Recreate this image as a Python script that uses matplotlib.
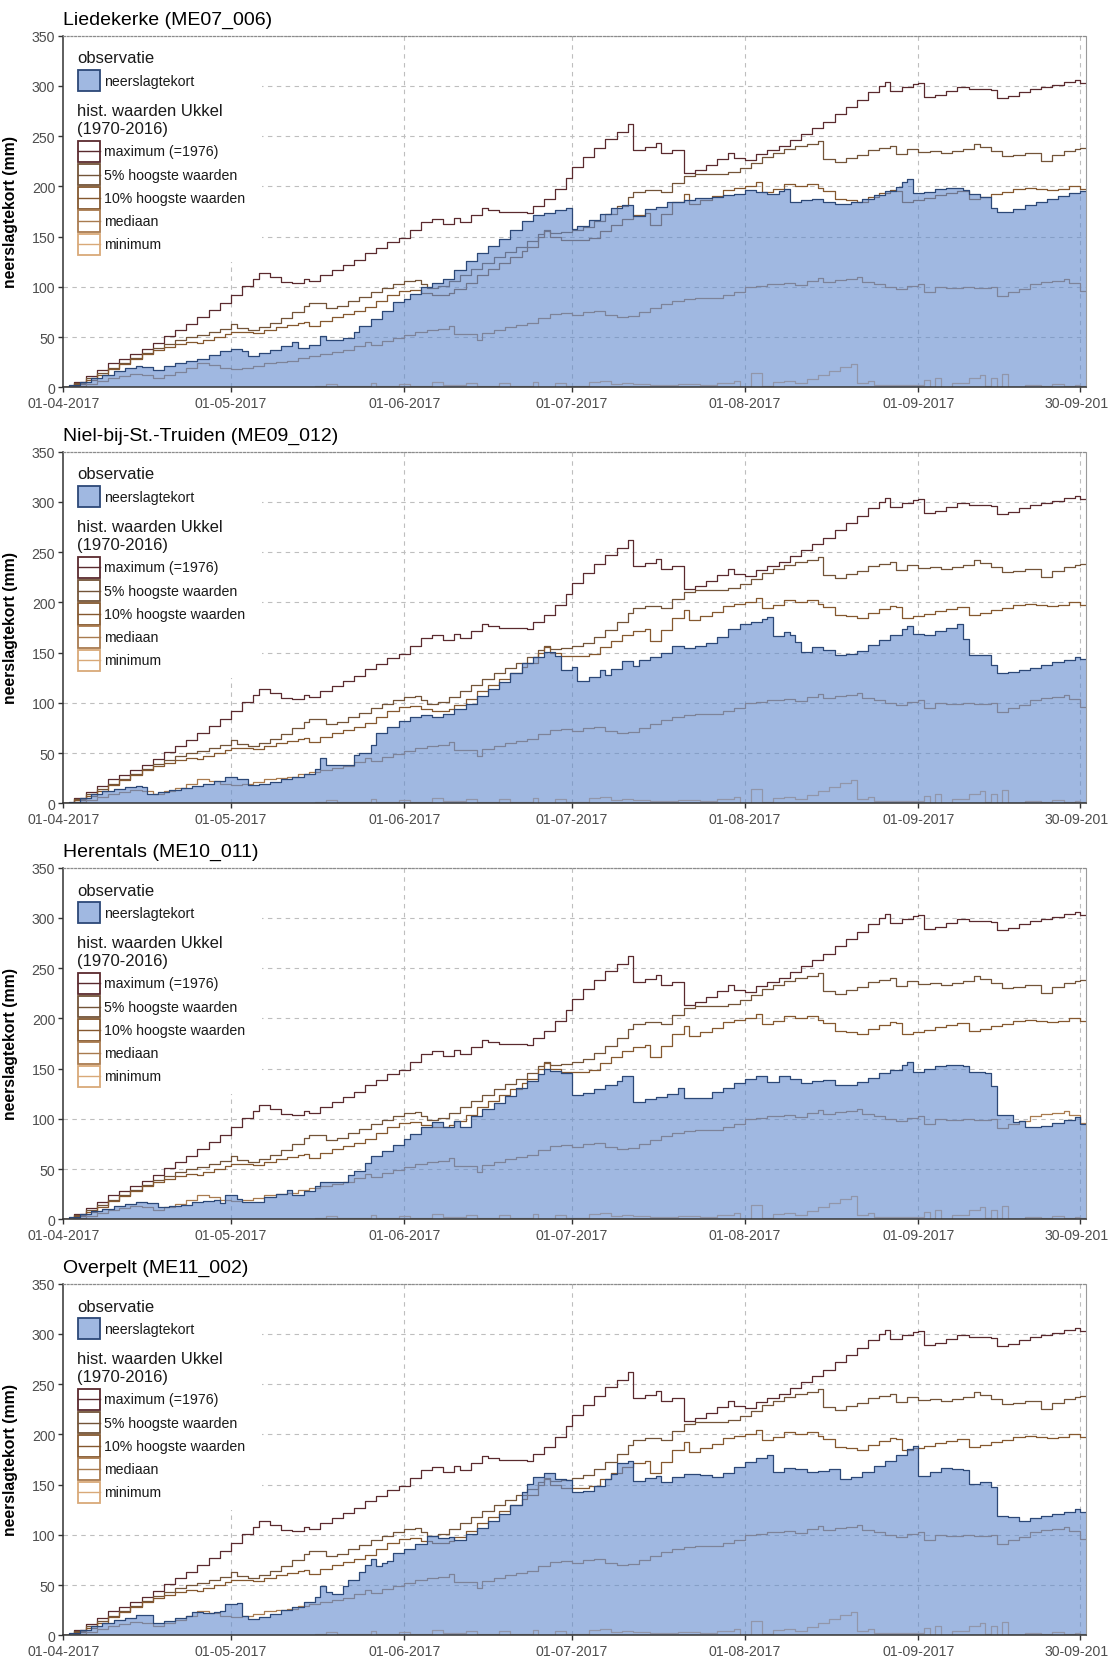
import datetime as dt
import matplotlib
matplotlib.use("Agg")
import matplotlib.pyplot as plt
import matplotlib.dates as mdates
from matplotlib.patches import Rectangle
from matplotlib.lines import Line2D

plt.rcParams['font.family'] = ['Liberation Sans', 'DejaVu Sans']

# ---------------------------------------------------------------- data
START = dt.date(2017, 4, 1)
END = dt.date(2017, 10, 1)

tick_dates = ['2017-04-01', '2017-05-01', '2017-06-01', '2017-07-01',
              '2017-08-01', '2017-09-01', '2017-09-30']
y_ticks = [0, 50, 100, 150, 200, 250, 300, 350]

stations = ['Liedekerke (ME07_006)', 'Niel-bij-St.-Truiden (ME09_012)',
            'Herentals (ME10_011)', 'Overpelt (ME11_002)']

hist_labels = ['maximum (=1976)', '5% hoogste waarden', '10% hoogste waarden',
               'mediaan', 'minimum']

# historical precipitation deficit at Ukkel, step series: (day since 1 April, mm)
max_days = [0, 2, 4, 6, 8, 10, 12, 14, 16, 18, 20, 22, 24, 26, 28, 30, 32, 34, 35, 37,
            39, 41, 43, 44, 46, 48, 50, 52, 54, 56, 58, 60, 62, 64, 66, 68, 70, 71, 73,
            75, 76, 78, 83, 84, 86, 88, 90, 91, 93, 95, 97, 99, 101, 102, 104, 106, 107,
            109, 111, 113, 115, 117, 119, 120, 122, 124, 126, 128, 130, 132, 134, 136,
            138, 140, 142, 144, 146, 147, 148, 150, 152, 153, 154, 156, 158, 160, 162,
            166, 167, 169, 171, 173, 175, 177, 179, 181, 182]
max_vals = [0, 5, 11, 17, 24, 28, 33, 38, 44, 51, 57, 63, 70, 77, 84, 92, 101, 108, 114,
            110, 105, 104, 108, 106, 112, 117, 122, 127, 134, 139, 145, 149, 157, 165, 168,
            163, 169, 165, 172, 178, 176, 175, 174, 180, 187, 197, 208, 219, 229, 238, 247,
            254, 262, 236, 239, 243, 233, 236, 213, 216, 221, 227, 233, 228, 226, 232, 236,
            240, 246, 252, 258, 264, 272, 279, 286, 294, 300, 304, 295, 299, 302, 303, 289,
            291, 295, 299, 297, 296, 288, 290, 294, 297, 299, 301, 304, 306, 303]

p5_days = [0, 2, 4, 6, 8, 10, 12, 14, 16, 18, 20, 22, 24, 26, 28, 30, 31, 33, 35, 37, 39,
           41, 43, 44, 46, 47, 49, 51, 53, 55, 57, 59, 61, 63, 64, 65, 67, 69, 71, 73, 75,
           77, 79, 81, 83, 85, 86, 87, 89, 91, 93, 95, 97, 99, 101, 102, 104, 106, 107,
           109, 111, 113, 116, 119, 121, 123, 125, 127, 129, 131, 133, 135, 136, 138, 140,
           142, 144, 146, 148, 149, 151, 153, 155, 157, 159, 161, 163, 164, 166, 168, 170,
           172, 174, 175, 177, 179, 181, 182]
p5_vals = [0, 4, 9, 14, 19, 24, 29, 34, 39, 43, 47, 50, 52, 55, 58, 63, 59, 57, 60, 64, 69,
           75, 81, 84, 84, 79, 81, 86, 90, 95, 99, 103, 106, 107, 103, 99, 101, 106, 112,
           118, 124, 130, 135, 140, 146, 153, 157, 154, 155, 157, 160, 166, 173, 180, 189,
           194, 196, 196, 194, 203, 210, 212, 212, 214, 218, 223, 229, 233, 237, 240, 242,
           245, 227, 224, 228, 231, 236, 238, 240, 232, 237, 234, 235, 233, 235, 237, 242,
           239, 235, 230, 231, 233, 233, 225, 231, 235, 237, 238]

p10_days = [0, 2, 4, 6, 8, 10, 12, 14, 16, 18, 20, 22, 24, 25, 27, 29, 30, 32, 34, 36, 38,
            40, 42, 43, 44, 46, 48, 50, 52, 54, 56, 58, 60, 62, 64, 66, 69, 70, 72, 74, 76,
            78, 80, 82, 83, 85, 86, 87, 89, 94, 96, 98, 100, 102, 104, 105, 107, 109, 111,
            112, 114, 116, 118, 120, 122, 124, 125, 127, 129, 131, 133, 135, 136, 138, 140,
            142, 144, 146, 148, 149, 150, 152, 154, 156, 158, 160, 162, 164, 166, 168, 170,
            172, 174, 176, 178, 180, 182]
p10_vals = [0, 3, 7, 12, 18, 23, 28, 33, 37, 40, 43, 45, 44, 47, 50, 53, 55, 55, 54, 57,
            60, 62, 64, 65, 61, 66, 70, 73, 76, 80, 86, 92, 96, 97, 94, 92, 94, 98, 104,
            112, 118, 124, 130, 136, 140, 150, 156, 150, 147, 149, 156, 162, 168, 172, 174,
            162, 173, 184, 192, 182, 186, 190, 196, 198, 200, 204, 194, 197, 202, 200, 202,
            198, 195, 187, 186, 184, 189, 193, 196, 195, 184, 186, 188, 191, 193, 195, 187,
            189, 192, 194, 197, 198, 197, 196, 197, 200, 197]

med_days = [0, 2, 4, 6, 8, 10, 12, 14, 16, 18, 20, 22, 24, 26, 28, 30, 32, 34, 36, 38, 40,
            42, 44, 46, 48, 50, 52, 54, 55, 57, 59, 61, 63, 65, 67, 69, 70, 73, 74, 75, 77,
            79, 81, 83, 85, 87, 89, 91, 93, 95, 97, 99, 101, 103, 105, 107, 109, 111, 113,
            116, 118, 120, 122, 124, 126, 129, 131, 133, 135, 136, 138, 140, 142, 143, 145,
            147, 149, 151, 153, 154, 156, 158, 161, 163, 166, 167, 169, 171, 173, 175, 177,
            179, 180, 182]
med_vals = [0, 1, 3, 6, 9, 11, 13, 12, 9, 12, 15, 19, 24, 22, 19, 18, 19, 21, 24, 25, 26,
            29, 31, 33, 35, 37, 41, 45, 42, 46, 49, 52, 55, 57, 58, 61, 53, 53, 47, 54, 57,
            60, 62, 64, 69, 73, 74, 72, 75, 76, 72, 70, 71, 75, 79, 83, 86, 88, 89, 89, 92,
            95, 100, 101, 103, 104, 102, 106, 109, 105, 107, 108, 110, 105, 103, 100, 98,
            101, 103, 95, 100, 99, 100, 99, 100, 91, 95, 98, 103, 105, 106, 108, 104, 96]

min_days = [0, 45, 47, 49, 55, 56, 60, 62, 66, 68, 72, 74, 78, 80, 84, 85, 88, 90, 94, 96,
            98, 100, 102, 105, 110, 114, 117, 120, 121, 123, 125, 127, 129, 131, 133, 135,
            137, 139, 141, 142, 144, 145, 150, 154, 155, 156, 157, 159, 162, 164, 165, 166,
            167, 168, 169, 172, 175, 177, 179, 181, 182]
min_vals = [0, 1, 3, 1, 4, 1, 3, 1, 5, 2, 4, 1, 4, 1, 5, 0, 4, 1, 5, 6, 3, 4, 3, 2, 3, 2,
            4, 6, 0, 14, 1, 5, 6, 4, 8, 12, 16, 20, 23, 4, 6, 2, 2, 7, 0, 9, 0, 4, 9, 12, 1,
            9, 0, 13, 0, 2, 1, 3, 1, 2, 1]

# observed precipitation deficit per station: (day since 1 April, mm)
obs1_days = [0, 1, 3, 5, 7, 9, 11, 13, 14, 16, 18, 20, 22, 24, 26, 28, 30, 32, 33, 35, 37,
             39, 41, 42, 44, 46, 47, 50, 52, 53, 55, 57, 59, 61, 62, 64, 66, 68, 70, 72,
             74, 76, 78, 80, 82, 84, 86, 88, 90, 91, 92, 94, 96, 98, 100, 102, 104, 106,
             108, 111, 113, 116, 118, 120, 122, 124, 126, 128, 129, 130, 132, 134, 136,
             138, 141, 143, 145, 147, 149, 150, 151, 152, 154, 156, 158, 161, 162, 164,
             166, 167, 170, 172, 174, 176, 178, 180, 182]
obs1_vals = [0, 2, 5, 9, 12, 16, 19, 21, 20, 17, 21, 24, 26, 28, 32, 36, 38, 36, 31, 34,
             37, 41, 45, 39, 42, 51, 47, 49, 55, 61, 68, 76, 85, 88, 93, 100, 104, 108, 117,
             126, 134, 141, 148, 157, 166, 172, 174, 176, 178, 158, 161, 167, 173, 178, 181,
             171, 177, 179, 184, 186, 188, 189, 191, 192, 196, 194, 192, 195, 197, 184, 186,
             187, 184, 182, 184, 187, 191, 195, 199, 204, 207, 193, 194, 197, 198, 196, 192,
             189, 178, 175, 177, 181, 184, 187, 190, 193, 195]

obs2_days = [0, 1, 3, 5, 7, 9, 11, 13, 14, 15, 17, 19, 21, 23, 25, 27, 29, 31, 33, 35, 37,
             39, 41, 43, 45, 46, 47, 51, 52, 53, 55, 56, 58, 60, 62, 64, 66, 68, 70, 72,
             74, 76, 78, 80, 82, 84, 86, 88, 89, 91, 92, 94, 96, 97, 98, 100, 102, 103,
             105, 107, 109, 111, 113, 115, 117, 119, 121, 123, 125, 126, 127, 129, 130,
             131, 132, 134, 136, 138, 140, 142, 144, 146, 148, 150, 151, 152, 154, 156,
             158, 160, 161, 162, 165, 166, 167, 169, 171, 173, 175, 177, 179, 181, 182]
obs2_vals = [0, 1, 5, 9, 12, 14, 16, 17, 16, 9, 11, 13, 15, 17, 19, 22, 26, 24, 18, 19,
             21, 24, 26, 29, 34, 45, 38, 38, 48, 50, 58, 70, 76, 82, 86, 88, 86, 89, 94,
             99, 107, 114, 121, 130, 140, 146, 151, 147, 133, 136, 122, 126, 133, 128, 134,
             142, 137, 143, 146, 150, 157, 155, 157, 160, 166, 174, 178, 180, 183, 185, 167,
             171, 168, 161, 151, 156, 153, 148, 149, 152, 158, 163, 168, 174, 176, 169, 168,
             172, 175, 178, 164, 148, 148, 138, 130, 131, 133, 135, 138, 141, 143, 146, 144]

obs3_days = [0, 1, 3, 5, 7, 9, 11, 13, 15, 17, 19, 21, 23, 25, 27, 28, 29, 31, 32, 34, 36,
             38, 40, 41, 43, 45, 46, 49, 51, 52, 54, 55, 57, 59, 61, 62, 64, 66, 68, 70,
             71, 73, 75, 77, 79, 81, 83, 85, 86, 87, 89, 91, 93, 95, 97, 99, 100, 102, 104,
             106, 108, 110, 111, 114, 116, 118, 120, 122, 124, 126, 128, 130, 132, 134,
             136, 138, 140, 142, 144, 146, 148, 150, 151, 152, 154, 156, 158, 161, 162,
             165, 166, 167, 170, 171, 172, 175, 177, 179, 181, 182]
obs3_vals = [0, 2, 5, 8, 10, 13, 15, 17, 16, 12, 13, 14, 17, 18, 19, 16, 24, 20, 17, 17,
             22, 25, 29, 24, 28, 33, 37, 37, 44, 48, 56, 63, 68, 74, 80, 85, 92, 97, 92, 98,
             92, 103, 110, 116, 123, 131, 138, 145, 150, 148, 146, 124, 126, 130, 134, 138,
             143, 117, 120, 122, 125, 131, 121, 121, 127, 131, 136, 140, 143, 137, 143, 140,
             136, 138, 139, 134, 134, 137, 141, 146, 149, 154, 157, 147, 150, 153, 154, 153,
             147, 146, 133, 104, 97, 98, 92, 93, 96, 99, 102, 95]

obs4_days = [0, 1, 3, 5, 7, 9, 11, 13, 15, 16, 18, 20, 22, 23, 25, 27, 28, 29, 31, 32, 33,
             35, 37, 39, 41, 43, 45, 46, 47, 48, 50, 51, 53, 54, 55, 56, 57, 58, 59, 61,
             63, 65, 67, 69, 70, 72, 74, 76, 78, 80, 82, 83, 84, 86, 88, 90, 91, 93, 95,
             97, 98, 99, 101, 102, 104, 106, 107, 109, 111, 114, 116, 118, 120, 122, 124,
             126, 127, 129, 131, 133, 135, 137, 139, 141, 143, 145, 147, 149, 151, 152,
             153, 155, 157, 159, 161, 162, 164, 166, 167, 169, 171, 173, 175, 177, 179,
             181, 182]
obs4_vals = [0, 2, 5, 9, 12, 15, 17, 20, 20, 12, 14, 17, 19, 23, 22, 23, 24, 31, 32, 19,
             16, 18, 21, 25, 28, 33, 38, 49, 43, 41, 49, 55, 63, 70, 76, 69, 72, 74, 82, 86,
             91, 99, 97, 98, 95, 101, 107, 114, 121, 130, 143, 151, 158, 162, 156, 155, 143,
             144, 149, 156, 161, 172, 174, 154, 157, 159, 153, 158, 161, 160, 158, 162, 168,
             173, 176, 179, 163, 167, 166, 163, 164, 166, 156, 158, 163, 169, 174, 179, 185,
             188, 159, 163, 167, 166, 165, 151, 153, 148, 119, 118, 114, 117, 119, 121, 123,
             126, 123]

obs_series = [(obs1_days, obs1_vals), (obs2_days, obs2_vals),
              (obs3_days, obs3_vals), (obs4_days, obs4_vals)]
hist_series = [(max_days, max_vals), (p5_days, p5_vals), (p10_days, p10_vals),
               (med_days, med_vals), (min_days, min_vals)]

# ---------------------------------------------------------------- style
hist_colors = ['#5A2A2E', '#735438', '#85582F', '#A97B4F', '#D9A978']
fill_color = '#618ACD'
edge_color = '#2C4877'
grid_color = '#BEBEBE'
tick_color = '#4D4D4D'

W, H = 1109, 1658
AX_LEFT, AX_W = 63.3, 1022.7
AX_TOP0, AX_H, PITCH = 36.7, 351.6, 416.0


def to_num(days):
    return [mdates.date2num(START + dt.timedelta(days=d)) for d in days]


def extended(days, vals):
    # hold the last value up to the end of the period
    x = to_num(days) + [mdates.date2num(END)]
    y = list(vals) + [vals[-1]]
    return x, y


def px_to_axes(dx, dy):
    return dx / AX_W, 1 - dy / AX_H


def draw_legend(ax):
    tr = ax.transAxes
    x0, y0 = px_to_axes(0, 226)
    bg = Rectangle((x0, y0), 198.7 / AX_W, 1 - y0, transform=tr, facecolor='white',
                   edgecolor='none', zorder=4)
    ax.add_patch(bg)

    kx, kw = 15.0, 21.7

    def key_box(top, h, face, edge, lw, alpha=1.0):
        bx, by = px_to_axes(kx, top + h)
        r = Rectangle((bx, by), kw / AX_W, h / AX_H, transform=tr, facecolor=face,
                      edgecolor=edge, linewidth=lw, zorder=5, alpha=alpha)
        ax.add_patch(r)

    tx = 40.7
    t = px_to_axes(13.7, 22.3)
    ax.text(t[0], t[1], 'observatie', transform=tr, fontsize=12, va='center',
            ha='left', color='#1A1A1A', zorder=6)
    key_box(34.3, 21.3, fill_color, 'none', 0, alpha=0.6)
    key_box(34.3, 21.3, 'none', edge_color, 1.3)
    p = px_to_axes(tx, 45.0)
    ax.text(p[0], p[1], 'neerslagtekort', transform=tr, fontsize=10.2, va='center',
            ha='left', color='#1A1A1A', zorder=6)

    for dy, s in [(75.3, 'hist. waarden Ukkel'), (92.5, '(1970-2016)')]:
        p = px_to_axes(13.7, dy)
        ax.text(p[0], p[1], s, transform=tr, fontsize=12, va='center', ha='left',
                color='#1A1A1A', zorder=6)

    for i, (lab, col) in enumerate(zip(hist_labels, hist_colors)):
        top = 105.0 + 23.2 * i
        key_box(top, 21.5, 'white', col, 1.3)
        ya = px_to_axes(0, top + 10.75)[1]
        ax.add_line(Line2D([kx / AX_W, (kx + kw) / AX_W], [ya, ya], transform=tr,
                           color=col, linewidth=1.0, zorder=6))
        p = px_to_axes(tx, top + 10.75)
        ax.text(p[0], p[1], lab, transform=tr, fontsize=10.2, va='center', ha='left',
                color='#1A1A1A', zorder=6)


fig = plt.figure(figsize=(W / 100, H / 100), dpi=100)

tick_nums = [mdates.date2num(dt.date.fromisoformat(s)) for s in tick_dates]

for k, name in enumerate(stations):
    top_px = AX_TOP0 + PITCH * k
    ax = fig.add_axes([AX_LEFT / W, 1 - (top_px + AX_H) / H, AX_W / W, AX_H / H])

    ax.set_xlim(mdates.date2num(START), mdates.date2num(END))
    ax.set_ylim(0, 350)

    # grid
    for yv in y_ticks[1:]:
        ax.axhline(yv, color=grid_color, linewidth=0.8, linestyle=(0, (4, 4)), zorder=0.5)
    for xv in tick_nums[1:]:
        ax.axvline(xv, color=grid_color, linewidth=0.8, linestyle=(0, (4, 4)), zorder=0.5)

    # historical curves
    for (days, vals), col in zip(hist_series, hist_colors):
        x, y = extended(days, vals)
        ax.step(x, y, where='post', color=col, linewidth=0.9, zorder=2)

    # observation
    days, vals = obs_series[k]
    x, y = extended(days, vals)
    ax.fill_between(x, 0, y, step='post', facecolor=fill_color, alpha=0.6,
                    linewidth=0, zorder=3)
    ax.step(x, y, where='post', color=edge_color, linewidth=0.9, zorder=3.5)

    draw_legend(ax)

    # axes decoration
    ax.set_xticks(tick_nums)
    ax.set_xticklabels([dt.date.fromisoformat(s).strftime('%d-%m-%Y') for s in tick_dates])
    ax.set_yticks(y_ticks)
    ax.set_yticklabels([str(v) for v in y_ticks])
    ax.tick_params(axis='both', direction='out', length=3.8, width=1.0, color='#333333',
                   labelcolor=tick_color, labelsize=10.2)
    ax.tick_params(axis='x', pad=2.4)
    ax.tick_params(axis='y', pad=2.0)

    for side in ['left', 'bottom']:
        ax.spines[side].set_color('#333333')
        ax.spines[side].set_linewidth(1.1)
    ax.spines['right'].set_color('#9A9A9A')
    ax.spines['right'].set_linewidth(0.8)
    ax.spines['top'].set_color('#8C8C8C')
    ax.spines['top'].set_linewidth(0.9)
    ax.spines['top'].set_linestyle((0, (1.5, 1.5)))
    for sp in ax.spines.values():
        sp.set_zorder(7)

    ax.set_ylabel('neerslagtekort (mm)', fontsize=11.3, fontweight='bold', color='#000000')
    ax.yaxis.set_label_coords((18.0 - AX_LEFT) / AX_W, 0.5)

    ax.annotate(name, xy=(0, 1), xycoords='axes fraction', xytext=(0, 8.4),
                textcoords='offset points', ha='left', va='baseline', fontsize=14,
                color='#000000')

fig.savefig('out.png', dpi=100)
